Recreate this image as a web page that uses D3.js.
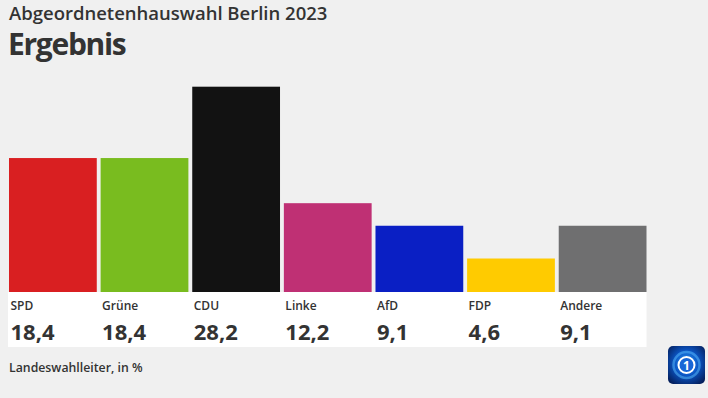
<!DOCTYPE html>
<html>
<head>
<meta charset="utf-8">
<script src="https://cdn.jsdelivr.net/npm/d3@7"></script>
<style>
  body { margin: 0; background: #f0f0f0; }
  svg { display: block; font-family: "Open Sans", "Noto Sans", sans-serif; }
</style>
</head>
<body>
<div id="chart"></div>
<script>
// data
var parties = ["SPD", "Grüne", "CDU", "Linke", "AfD", "FDP", "Andere"];
var results = [18.4, 18.4, 28.2, 12.2, 9.1, 4.6, 9.1];
var partyColors = ["#d91f21", "#79bc1f", "#121212", "#bf3074", "#0a1fc4", "#ffcb00", "#6f6f70"];

var width = 708, height = 398;
var fmt = function(v){ return v.toFixed(1).replace(".", ","); };

var svg = d3.select("#chart").append("svg")
  .attr("width", width)
  .attr("height", height);

svg.append("rect").attr("width", width).attr("height", height).attr("fill", "#f0f0f0");

// titles
svg.append("text").attr("x", 9).attr("y", 20)
  .attr("font-size", "18.5px").attr("font-weight", 600).attr("fill", "#333")
  .text("Abgeordnetenhauswahl Berlin 2023");
svg.append("text").attr("x", 8).attr("y", 55)
  .attr("font-size", "30px").attr("font-weight", 700).attr("fill", "#333")
  .attr("letter-spacing", "-1.3px")
  .text("Ergebnis");

var baseline = 292;
var xScale = d3.scaleBand().domain(parties).range([9, 646.5])
  .paddingInner(0.042).paddingOuter(0);
var yScale = d3.scaleLinear().domain([0, d3.max(results)]).range([baseline, 86.7]);

var data = parties.map(function(p, i){ return {party: p, value: results[i], color: partyColors[i]}; });

// bars
svg.append("g").selectAll("rect").data(data).enter().append("rect")
  .attr("x", function(d){ return xScale(d.party); })
  .attr("y", function(d){ return yScale(d.value); })
  .attr("width", xScale.bandwidth())
  .attr("height", function(d){ return baseline - yScale(d.value); })
  .attr("fill", function(d){ return d.color; });

// label panel
svg.append("rect").attr("x", 8).attr("y", baseline)
  .attr("width", xScale.range()[1] - 8).attr("height", 55)
  .attr("fill", "#ffffff");

var labels = svg.append("g").selectAll("g").data(data).enter().append("g")
  .attr("transform", function(d){ return "translate(" + (xScale(d.party) + 1.5) + ",0)"; });
labels.append("text").attr("y", 310)
  .attr("font-size", "12px").attr("font-weight", 600).attr("fill", "#333")
  .text(function(d){ return d.party; });
labels.append("text").attr("y", 340)
  .attr("font-size", "22px").attr("font-weight", 700).attr("fill", "#333")
  .text(function(d){ return fmt(d.value); });

// source
svg.append("text").attr("x", 9).attr("y", 371.5)
  .attr("font-size", "12.3px").attr("font-weight", 600).attr("fill", "#333")
  .text("Landeswahlleiter, in %");

// logo
var defs = svg.append("defs");
var grad = defs.append("radialGradient").attr("id", "logoGrad").attr("cx", "50%").attr("cy", "45%").attr("r", "65%");
grad.append("stop").attr("offset", "0%").attr("stop-color", "#2a9cf5");
grad.append("stop").attr("offset", "50%").attr("stop-color", "#0b55c4");
grad.append("stop").attr("offset", "100%").attr("stop-color", "#05205e");
var logo = svg.append("g").attr("transform", "translate(668,346)");
logo.append("rect").attr("width", 37).attr("height", 38).attr("rx", 5).attr("fill", "url(#logoGrad)");
logo.append("circle").attr("cx", 18.5).attr("cy", 19).attr("r", 13).attr("fill", "none")
  .attr("stroke", "#5cc0ff").attr("stroke-width", 2.5).attr("opacity", 0.5);
logo.append("circle").attr("cx", 18.5).attr("cy", 19).attr("r", 8).attr("fill", "#1766d6")
  .attr("stroke", "#ffffff").attr("stroke-width", 2);
logo.append("text").attr("x", 18.5).attr("y", 23.5).attr("text-anchor", "middle")
  .attr("font-size", "12px").attr("font-weight", 700).attr("fill", "#ffffff").text("1");
</script>
</body>
</html>
